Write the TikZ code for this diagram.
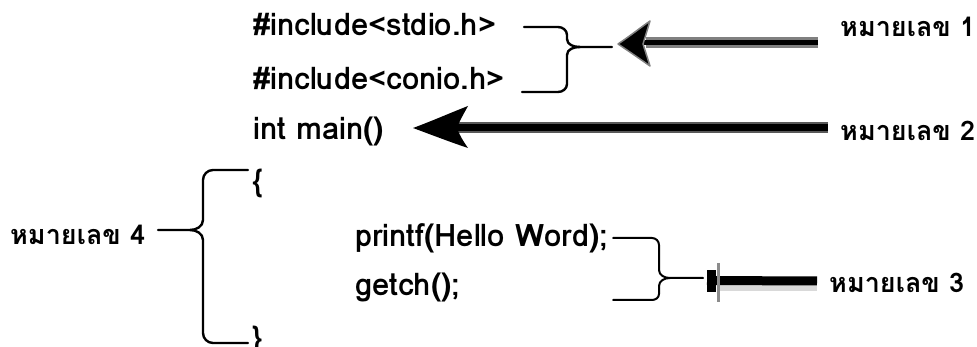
\documentclass[tikz,border=0pt]{standalone}
\usepackage{fontspec}
\newfontfamily\thaifont[Script=Thai]{Loma}
\tikzset{
  txt/.style={anchor=base west, inner sep=0pt, font=\thaifont\bfseries\fontsize{31}{36}\selectfont},
  lbl/.style={anchor=base west, inner sep=0pt, font=\thaifont\bfseries\fontsize{27}{32}\selectfont},
  bracepath/.style={line width=2.4pt, line cap=round, line join=round},
}
\begin{document}
\begin{tikzpicture}[x=1pt,y=-1pt]
\useasboundingbox (0,0) rectangle (977,347);
% code lines
\node[txt] (l1) at (253,36) {\#include<stdio.h>};
\node[txt] (l2) at (253,90) {\#include<conio.h>};
\node[txt] (l3) at (253,140) {int main()};
\node[txt] (l4) at (252,192) {\{};
\node[txt] (l5) at (355,247) {printf(Hello Word);};
\node[txt] (l6) at (355,296) {getch();};
\node[txt] (l7) at (252,348) {\}};
% labels
\node[lbl] (n1) at (840,37) {หมายเลข 1};
\node[lbl] (n2) at (840,141) {หมายเลข 2};
\node[lbl] (n3) at (829,293) {หมายเลข 3};
\node[lbl] (n4) at (10,245) {หมายเลข 4};
% brace 1
\coordinate (b1) at (612,47);
\draw[bracepath] (524,27) -- (558,27) to[out=0,in=90] (567,35) -- (567,39) to[out=-90,in=180] (580,47) -- (b1);
\draw[bracepath] (580,47) to[out=180,in=90] (567,55) -- (567,84) to[out=-90,in=0] (558,92) -- (522,92);
% arrow 1
\coordinate (a1s) at (818,43);
\coordinate (a1t) at (618,44);
\draw[line width=11pt, gray] (a1s) -- (646,43);
\draw[line width=5pt, black] (a1s) -- (640,43);
\fill[black, draw=gray, line width=1.5pt, line join=round] (a1t) .. controls (630,36) and (640,28) .. (650,21) -- (643,44) -- (650,66) .. controls (640,59) and (630,52) .. (a1t) -- cycle;
% arrow 2
\coordinate (a2s) at (828,128);
\coordinate (a2t) at (413,128);
\draw[line width=11pt, black!65] (a2s) -- (455,128);
\draw[line width=7pt, black] (a2s) -- (455,128);
\fill[black] (a2t) .. controls (432,121) and (450,113) .. (468,106) .. controls (463,115) and (459,122) .. (457,128) .. controls (459,134) and (463,141) .. (468,148) .. controls (450,142) and (432,135) .. (a2t) -- cycle;
% brace 3
\coordinate (b3) at (703,278);
\draw[bracepath, line width=2pt] (613,238) -- (652,238) to[out=0,in=90] (659,245) -- (659,270) to[out=-90,in=180] (670,278) -- (b3);
\draw[bracepath, line width=2pt] (670,278) to[out=180,in=90] (659,286) -- (659,294) to[out=-90,in=0] (652,300) -- (613,300);
% arrow 3
\coordinate (a3s) at (817,281);
\fill[black!15] (718,285) rectangle (817,291);
\draw[line width=9pt, black] (a3s) -- (707,280.5);
\fill[black] (707,270) rectangle (716,292);
\draw[line width=3pt, black!45] (718,263) -- (718,302);
% brace 4
\coordinate (b4) at (158,230);
\draw[bracepath] (248,170) -- (213,170) to[out=180,in=90] (203,180) -- (203,220) to[out=-90,in=0] (190,230) -- (b4);
\draw[bracepath] (190,230) to[out=0,in=90] (203,240) -- (203,333) to[out=-90,in=180] (213,343) -- (248,343);
\end{tikzpicture}
\end{document}
